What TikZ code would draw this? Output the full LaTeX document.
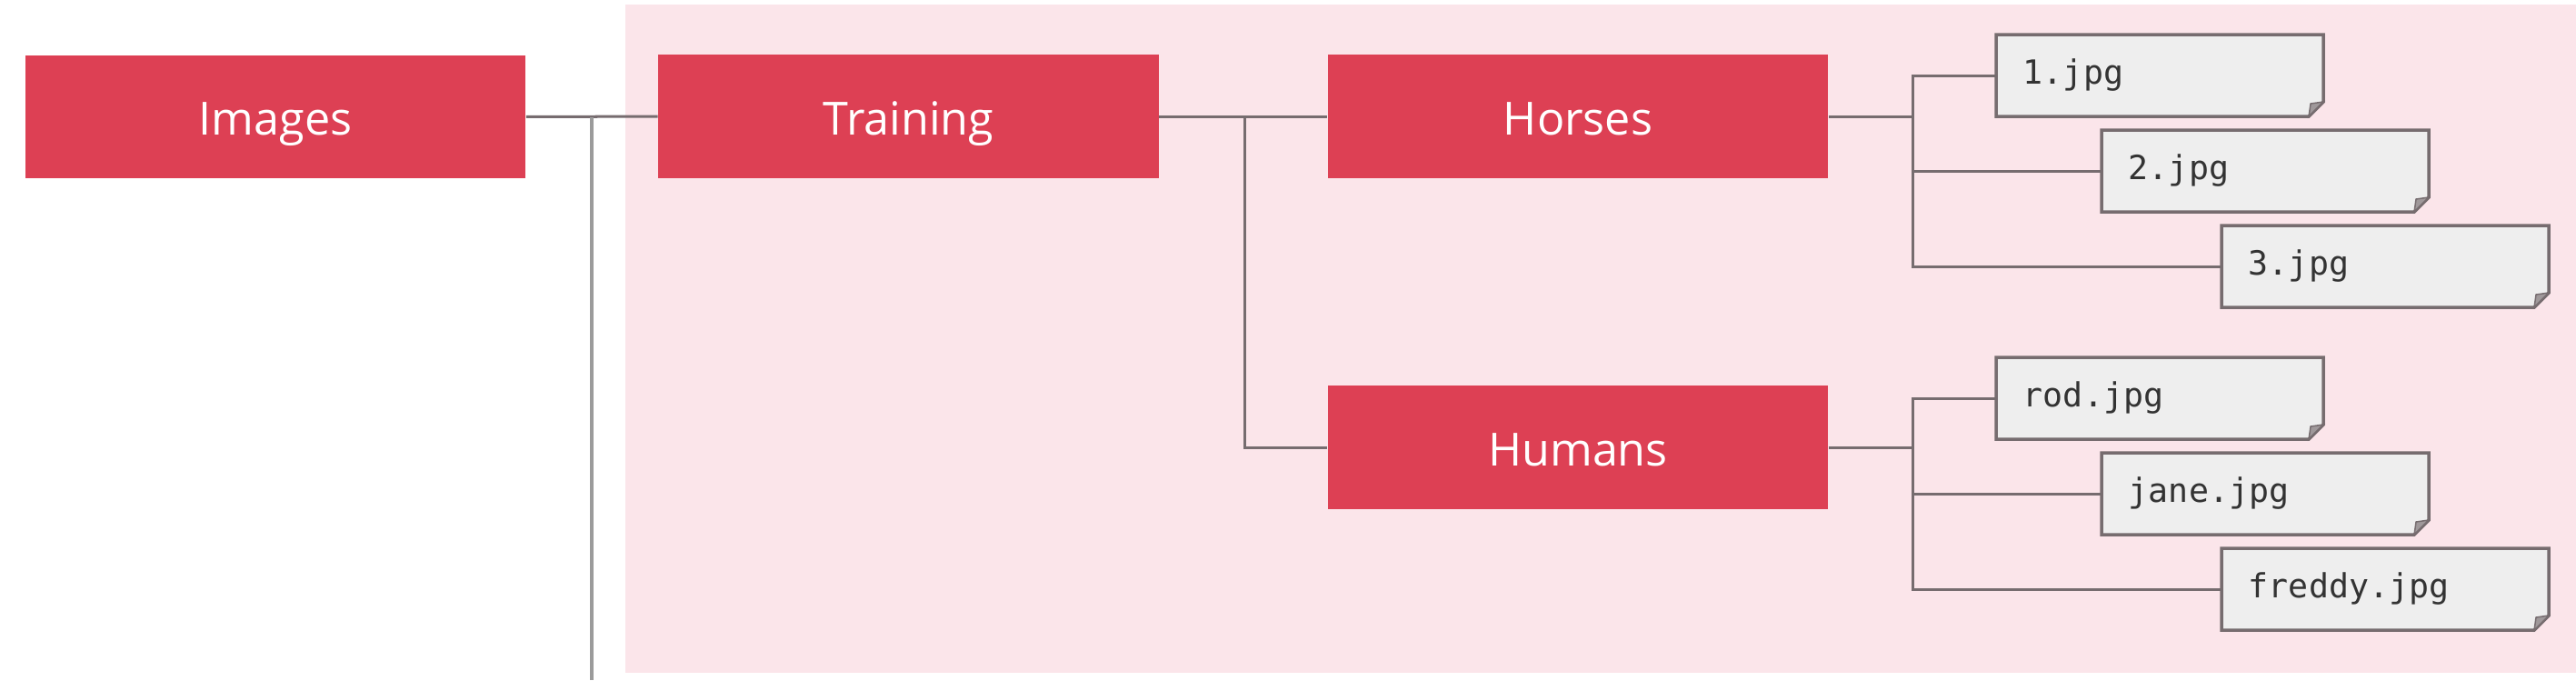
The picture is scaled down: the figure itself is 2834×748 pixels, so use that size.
\documentclass[tikz,border=0pt]{standalone}
\usepackage{fontspec}
\setmainfont{Open Sans}
\newfontfamily\monofont{DejaVu Sans Mono}
\usetikzlibrary{positioning, calc}
\definecolor{folder}{RGB}{221, 64, 84}
\definecolor{panel}{RGB}{251, 229, 234}
\definecolor{paper}{RGB}{238, 238, 238}
\definecolor{edge}{RGB}{118, 108, 111}
\definecolor{trunk}{RGB}{155, 155, 155}

\begin{document}
\begin{tikzpicture}[x=0.01cm, y=-0.01cm,
    dirbox/.style={fill=folder, text=white, minimum width=5.5cm, minimum height=1.35cm, inner sep=0pt, text height=0.4cm, text depth=0pt, font=\fontsize{14.3}{17}\selectfont},
    filebox/.style={inner xsep=0.3cm, inner ysep=0pt, text width=3.0cm, minimum height=0.9cm, align=left, font=\monofont\fontsize{10.4}{12}\selectfont, text=black!80},
    sheet/.style={fill=paper, draw=edge, line width=0.035cm, line join=miter},
    link/.style={draw=edge, line width=0.03cm},
    trunkline/.style={draw=trunk, line width=0.04cm}]
    \useasboundingbox (0,0) rectangle (2834,748);
    % Panel: training set
    \fill[panel] (688,5) rectangle (2834,740);

    % Folders
    \node[dirbox] (images) at (303,128.5) {Images};
    \node[dirbox] (training) at (999.5,128) {Training};
    \node[dirbox] (horses) at (1736,128) {Horses};
    \node[dirbox] (humans) at (1736,492) {Humans};

    % Files: name/x/y/label
    \foreach \name/\fx/\fy/\label in {hf1/2376/83/1.jpg, hf2/2492/188/2.jpg, hf3/2624/293/3.jpg,
        mf1/2376/438/rod.jpg, mf2/2492/543/jane.jpg, mf3/2624/648/freddy.jpg} {
        \filldraw[sheet] (\fx-180,\fy-45) -- (\fx+180,\fy-45) -- (\fx+180,\fy+29) -- (\fx+164,\fy+45) -- (\fx-180,\fy+45) -- cycle;
        \filldraw[fill=edge!70, draw=edge, line width=0.015cm] (\fx+180,\fy+29) -- (\fx+166,\fy+31) -- (\fx+164,\fy+45) -- cycle;
        \node[filebox] (\name) at (\fx,\fy) {\label};
    }

    % Images -> Training, and the trunk going down
    \coordinate (imgdown) at (651,748);
    \draw[link] (images) -- (training);
    \draw[trunkline] (images.east -| imgdown) -- (imgdown);

    % Training -> Horses / Humans
    \coordinate (split) at (1369,128);
    \draw[link] (training.east) -- (horses.west);
    \draw[link] (split) |- (humans.west);

    % Horses -> files
    \draw[link] (horses.east) -- ++(93,0) coordinate (hjoin);
    \draw[link] (hf1.west) -| (hjoin) |- (hf3.west);
    \draw[link] (hf2.west) -- (hf2.west -| hjoin);

    % Humans -> files
    \draw[link] (humans.east) -- ++(93,0) coordinate (mjoin);
    \draw[link] (mf1.west) -| (mjoin) |- (mf3.west);
    \draw[link] (mf2.west) -- (mf2.west -| mjoin);
\end{tikzpicture}
\end{document}
